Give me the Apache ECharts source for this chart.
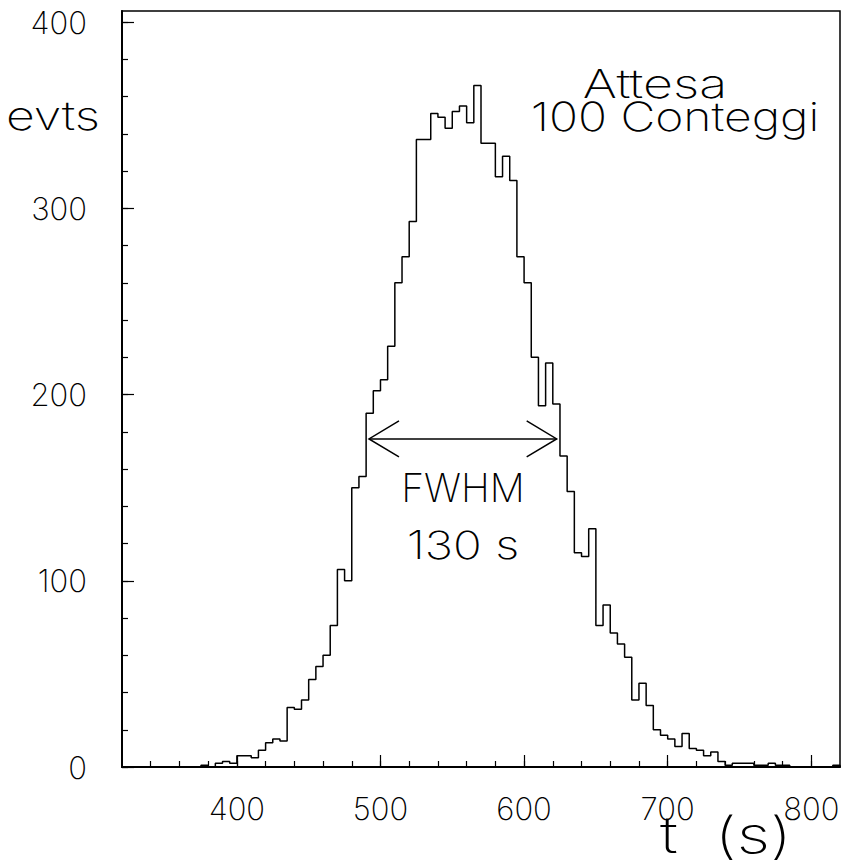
<!DOCTYPE html>
<html lang="it">
<head>
<meta charset="utf-8" />
<title>Attesa 100 Conteggi</title>
<script src="https://cdn.jsdelivr.net/npm/echarts@6/dist/echarts.min.js"></script>
<style>
  html, body { margin: 0; padding: 0; background: #fff; }
  #main { width: 843px; height: 865px; }
</style>
</head>
<body>
<div id="main"></div>
<script type="text/javascript">
// histogram: bins of 5 s starting at t = 320 s
const binStart = 320;
const binWidth = 5;
const counts = [
  0, 0, 0, 0, 0, 0, 0, 0, 0, 0, 0,            // 320 - 370
  1, 0, 2, 3, 2,                               // 375 - 395
  6, 6, 5, 9, 13, 15, 14, 32, 31, 36,          // 400 - 445
  47, 54, 60, 76, 106, 100, 150, 156, 190, 202, // 450 - 495
  208, 226, 260, 274, 293, 337, 337, 351, 349, 343, // 500 - 545
  352, 355, 346, 366, 335, 335, 317, 328, 315, 274, // 550 - 595
  260, 220, 194, 217, 195, 167, 148, 115, 113, 128, // 600 - 645
  76, 87, 72, 66, 59, 36, 45, 33, 20, 17,      // 650 - 695
  15, 11, 18, 10, 9, 6, 8, 3, 1, 2,            // 700 - 745
  2, 2, 1, 1, 2, 1, 1, 0, 0, 0,                // 750 - 795
  0, 0, 0, 1                                   // 800 - 815
];

// FWHM arrow: [left t, right t, evts]
const fwhmArrow = [[492, 622.7, 176.2]];

const xTickLabels = [400, 500, 600, 700, 800];
const yTickLabels = [0, 100, 200, 300, 400];

const font = 'Inter';
const weight = 200;

// step outline points (left edge of each bin, closing at the last right edge)
const histPoints = counts.map(function (c, i) { return [binStart + i * binWidth, c]; });
histPoints.push([binStart + counts.length * binWidth, 0]);

const xMinor = [];
for (let v = 340; v <= 800; v += 20) xMinor.push(v);
const yMinor = [];
for (let v = 0; v <= 400; v += 20) yMinor.push(v);

function label(txt, x, y, size, sx) {
  return {
    type: 'text', x: x, y: y, scaleX: sx || 1,
    style: {
      text: txt, fill: '#000', font: weight + ' ' + size + 'px "' + font + '"',
      align: 'center', verticalAlign: 'middle', lineHeight: Math.round(size * 0.7)
    }
  };
}

const myChart = echarts.init(document.getElementById('main'), null, { renderer: 'svg' });

const option = {
  backgroundColor: '#fff',
  animation: false,
  grid: {
    left: 122, right: 3, top: 11, bottom: 98,
    show: true, borderColor: '#000', borderWidth: 1.5,
    backgroundColor: 'transparent'
  },
  xAxis: [{
    type: 'value', min: 320, max: 820,
    axisLine: { show: true, onZero: false, lineStyle: { color: '#000', width: 2 } },
    axisTick: { show: true, inside: true, length: 6, customValues: xMinor, lineStyle: { color: '#000', width: 1.2 } },
    axisLabel: {
      show: true, customValues: xTickLabels, margin: 30, lineHeight: 22,
      color: '#000', fontFamily: font, fontWeight: weight, fontSize: 31
    },
    splitLine: { show: false }
  }, {
    type: 'value', min: 320, max: 820, position: 'bottom',
    axisLine: { show: false },
    axisTick: { show: true, inside: true, length: 12, customValues: xTickLabels, lineStyle: { color: '#000', width: 1.2 } },
    axisLabel: { show: false },
    splitLine: { show: false }
  }],
  yAxis: [{
    type: 'value', min: 0, max: 406,
    axisLine: { show: true, onZero: false, lineStyle: { color: '#000', width: 2 } },
    axisTick: { show: true, inside: true, length: 6, customValues: yMinor, lineStyle: { color: '#000', width: 1.2 } },
    axisLabel: {
      show: true, customValues: yTickLabels, margin: 35, lineHeight: 22,
      color: '#000', fontFamily: font, fontWeight: weight, fontSize: 31
    },
    splitLine: { show: false }
  }, {
    type: 'value', min: 0, max: 406, position: 'left',
    axisLine: { show: false },
    axisTick: { show: true, inside: true, length: 12, customValues: yTickLabels, lineStyle: { color: '#000', width: 1.2 } },
    axisLabel: { show: false },
    splitLine: { show: false }
  }],
  series: [{
    type: 'line',
    name: 'evts',
    xAxisIndex: 0, yAxisIndex: 0,
    step: 'end',
    showSymbol: false,
    symbol: 'none',
    lineStyle: { color: '#000', width: 1.5 },
    data: histPoints,
    z: 3
  }, {
    type: 'custom',
    name: 'FWHM',
    xAxisIndex: 0, yAxisIndex: 0,
    data: fwhmArrow,
    encode: { x: [0, 1], y: 2 },
    renderItem: function (params, api) {
      const a = api.coord([api.value(0), api.value(2)]);
      const b = api.coord([api.value(1), api.value(2)]);
      const st = { stroke: '#000', lineWidth: 1.5, fill: null };
      return {
        type: 'group',
        children: [
          { type: 'line', shape: { x1: a[0], y1: a[1], x2: b[0], y2: b[1] }, style: st },
          { type: 'polyline', shape: { points: [[a[0] + 30, a[1] - 18], a, [a[0] + 30, a[1] + 18]] }, style: st },
          { type: 'polyline', shape: { points: [[b[0] - 30, b[1] - 18], b, [b[0] - 30, b[1] + 18]] }, style: st }
        ]
      };
    },
    z: 4
  }],
  graphic: [
    label('evts', 53, 115, 40, 1.25),
    label('Attesa', 655, 83, 40, 1.3),
    label('100 Conteggi', 675, 117, 40, 1.2),
    label('FWHM', 463, 487, 39, 1.0),
    label('130 s', 463, 545, 39, 1.22),
    label('t  (s)', 726, 835, 50, 1.32)
  ]
};
myChart.setOption(option);
</script>
</body>
</html>
